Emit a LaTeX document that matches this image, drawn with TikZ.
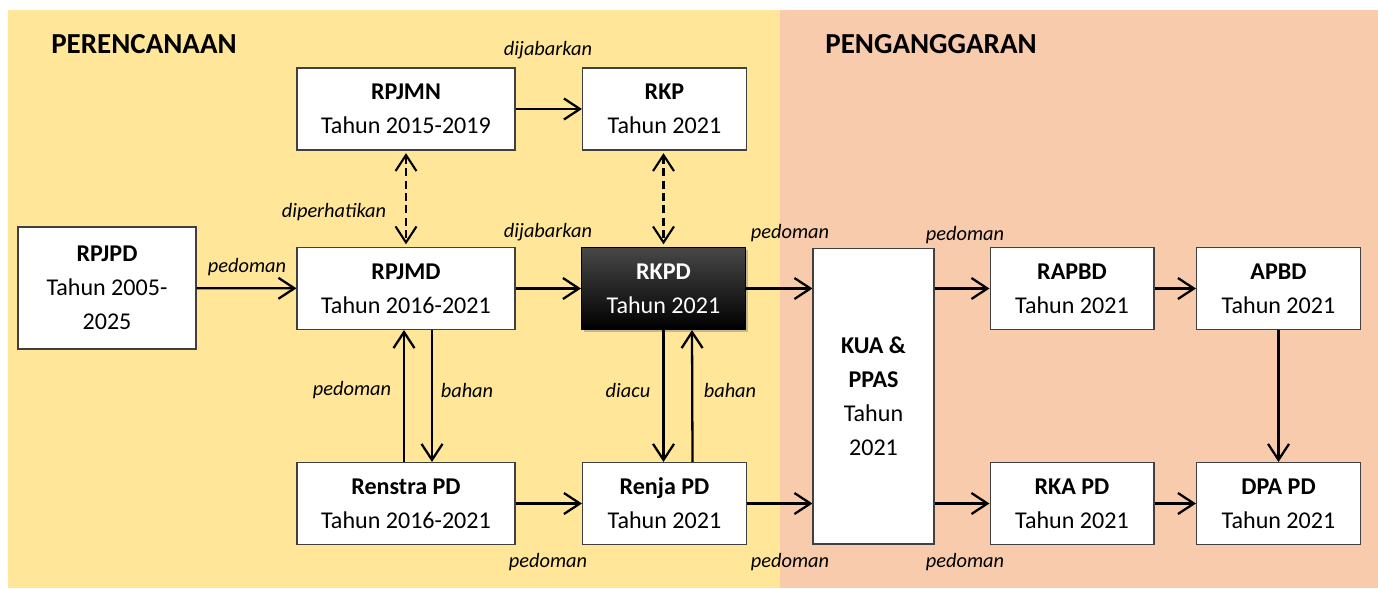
\documentclass[tikz,border=0pt]{standalone}
\usepackage{fontspec}
\setmainfont{Carlito}
\usetikzlibrary{positioning,calc,arrows.meta,shadows}
\definecolor{planbg}{HTML}{FFE699}
\definecolor{budgetbg}{HTML}{F8CBAD}

\begin{document}
\begin{tikzpicture}[
    x=0.02cm, y=-0.02cm,
    box/.style={draw=black!75, line width=0.6pt, fill=white, align=center, inner sep=2pt, font=\fontsize{13.7}{19.3}\selectfont, minimum height=1.64cm},
    widebox/.style={box, minimum width=4.36cm},
    slimbox/.style={box, minimum width=3.28cm},
    darkbox/.style={slimbox, draw=black, top color=black!72, bottom color=black, text=white, drop shadow={shadow xshift=1.2pt, shadow yshift=-1.2pt, opacity=0.45}},
    arr/.style={-{Straight Barb[length=3.2mm, width=4.2mm]}, line width=1.3pt},
    dasharr/.style={{Straight Barb[length=3.2mm, width=4.2mm]}-{Straight Barb[length=3.2mm, width=4.2mm]}, line width=1.2pt, dash pattern=on 4.5pt off 2.5pt, shorten >=1.5pt, shorten <=1.5pt},
    note/.style={font=\fontsize{11.6}{14}\selectfont\itshape},
    phase/.style={font=\fontsize{16.5}{20}\selectfont\bfseries},
]
    % === BACKGROUND ===
    \useasboundingbox (0,0) rectangle (1378,588);
    \fill[planbg] (8,10) rectangle (780,588);
    \fill[budgetbg] (780,10) rectangle (1378,588);
    \node[phase] (plan) at (144,44) {PERENCANAAN};
    \node[phase] (budget) at (931,44) {PENGANGGARAN};

    % === PLANNING BOXES ===
    \node[box, minimum width=3.56cm, minimum height=2.44cm] (rpjpd) at (107,288) {\textbf{RPJPD}\\Tahun 2005-\\2025};
    \node[widebox] (rpjmn) at (406,109) {\textbf{RPJMN}\\Tahun 2015-2019};
    \node[slimbox] (rkp) at (664.5,109) {\textbf{RKP}\\Tahun 2021};
    \node[widebox] (rpjmd) at (406,288.5) {\textbf{RPJMD}\\Tahun 2016-2021};
    \node[darkbox] (rkpd) at (663.5,288.5) {\textbf{RKPD}\\Tahun 2021};
    \node[widebox] (renstra) at (406,503.5) {\textbf{Renstra PD}\\Tahun 2016-2021};
    \node[slimbox] (renja) at (664.5,503.5) {\textbf{Renja PD}\\Tahun 2021};

    % === BUDGETING BOXES ===
    \node[box, minimum width=2.42cm, minimum height=5.92cm] (kua) at (873.5,396) {\textbf{KUA \&}\\\textbf{PPAS}\\Tahun\\2021};
    \node[slimbox] (rapbd) at (1072,288.5) {\textbf{RAPBD}\\Tahun 2021};
    \node[slimbox] (apbd) at (1278.5,288.5) {\textbf{APBD}\\Tahun 2021};
    \node[slimbox] (rkapd) at (1072,503.5) {\textbf{RKA PD}\\Tahun 2021};
    \node[slimbox] (dpapd) at (1278.5,503.5) {\textbf{DPA PD}\\Tahun 2021};

    % === ARROWS: top row ===
    \draw[arr] (rpjmn) -- (rkp);
    \draw[dasharr] (rpjmn.south) -- (rpjmd.north);
    \draw[dasharr] (rkp.south -| rkpd) -- (rkpd.north);

    % === ARROWS: middle row ===
    \draw[arr] (rpjpd) -- (rpjmd);
    \draw[arr] (rpjmd) -- (rkpd);
    \draw[arr] (rkpd.east) -- (rkpd.east -| kua.west);
    \draw[arr] (kua.east |- rapbd) -- (rapbd.west);
    \draw[arr] (rapbd) -- (apbd);
    \draw[arr] (apbd) -- (dpapd);

    % === ARROWS: vertical pairs ===
    \draw[arr] ($(renstra.north)+(-2,0)$) -- ($(rpjmd.south)+(-2,0)$);
    \draw[arr] ($(rpjmd.south)+(26,0)$) -- ($(renstra.north)+(26,0)$);
    \draw[arr] (rkpd.south) -- (rkpd.south |- renja.north);
    \draw[arr] ($(renja.north)+(28,0)$) -- ($(rkpd.south)+(28.5,0)$);

    % === ARROWS: bottom row ===
    \draw[arr] (renstra) -- (renja);
    \draw[arr] (renja.east) -- (renja.east -| kua.west);
    \draw[arr] (kua.east |- rkapd) -- (rkapd.west);
    \draw[arr] (rkapd) -- (dpapd);

    % === LABELS ===
    \node[note] (n1) at (548,50) {dijabarkan};
    \node[note] (n2) at (334,212) {diperhatikan};
    \node[note] (n3) at (247,267) {pedoman};
    \node[note] (n4) at (548,232) {dijabarkan};
    \node[note] (n5) at (790,233) {pedoman};
    \node[note] (n6) at (965,235) {pedoman};
    \node[note] (n7) at (352,390) {pedoman};
    \node[note] (n8) at (467,390) {bahan};
    \node[note] (n9) at (628,390) {diacu};
    \node[note] (n10) at (730,390) {bahan};
    \node[note] (n11) at (548,562) {pedoman};
    \node[note] (n12) at (790,562) {pedoman};
    \node[note] (n13) at (965,562) {pedoman};
\end{tikzpicture}
\end{document}
